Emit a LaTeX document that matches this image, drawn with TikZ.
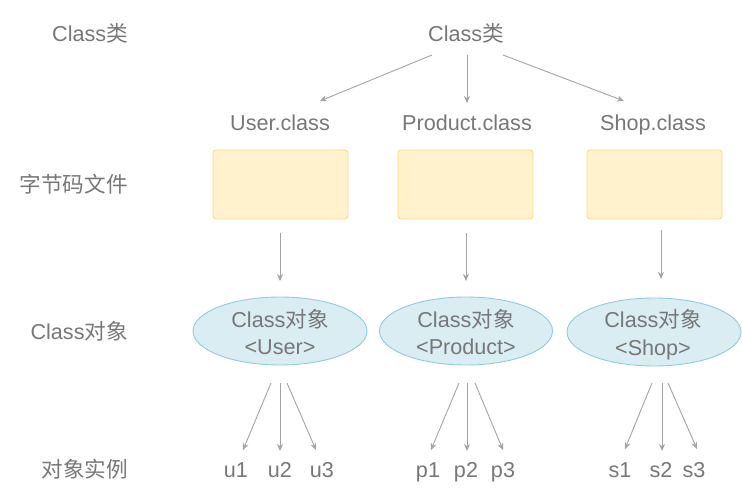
\documentclass[tikz,border=0pt]{standalone}
\usepackage{fontspec}
\setmainfont{Liberation Sans}
\newfontfamily\cjk{Noto Sans CJK SC}
\newcommand{\zh}[1]{{\cjk #1}}
\usetikzlibrary{arrows.meta,shapes.geometric}
\definecolor{txt}{HTML}{777777}
\definecolor{arr}{HTML}{A3A3A3}
\definecolor{boxfill}{HTML}{FFF2CC}
\definecolor{boxline}{HTML}{F9DC86}
\definecolor{ellfill}{HTML}{DAEDF3}
\definecolor{ellline}{HTML}{92CADB}
\tikzset{
  lbl/.style={text=txt, font=\fontsize{21.6}{26}\selectfont, inner sep=0pt, anchor=base},
  filebox/.style={draw=boxline, fill=boxfill, rounded corners=3pt, line width=0.9pt},
  objell/.style={draw=ellline, fill=ellfill, line width=0.9pt},
  conn/.style={draw=arr, line width=0.9pt, -{Stealth[length=7pt,width=6pt]}}
}
\begin{document}
\begin{tikzpicture}[x=1pt,y=-1pt]
\useasboundingbox (0,0) rectangle (742,503);
% left labels
\node[lbl, anchor=base east] (l1) at (128,42) {Class\zh{类}};
\node[lbl, anchor=base east] (l2) at (128,192) {\zh{字节码文件}};
\node[lbl, anchor=base east] (l3) at (128,339) {Class\zh{对象}};
\node[lbl, anchor=base east] (l4) at (128,477) {\zh{对象实例}};
% top
\node[lbl] (cls) at (466,42) {Class\zh{类}};
\node[lbl] (uc) at (280,130) {User.class};
\node[lbl] (pc) at (467,130) {Product.class};
\node[lbl] (sc) at (653,130) {Shop.class};
% boxes
\path[filebox] (213,150) rectangle (348,219);
\path[filebox] (398,150) rectangle (533,219);
\path[filebox] (587,150) rectangle (722,219);
\node[inner sep=0pt, minimum width=135pt, minimum height=69pt] (ub) at (280.5,184.5) {};
\node[inner sep=0pt, minimum width=135pt, minimum height=69pt] (pb) at (465.5,184.5) {};
\node[inner sep=0pt, minimum width=135pt, minimum height=69pt] (sb) at (654.5,184.5) {};
% ellipses
\node[objell, ellipse, minimum width=174pt, minimum height=68pt, inner sep=0pt] (ue) at (280,331) {};
\node[objell, ellipse, minimum width=173pt, minimum height=68pt, inner sep=0pt] (pe) at (466,331) {};
\node[objell, ellipse, minimum width=174pt, minimum height=68pt, inner sep=0pt] (se) at (654,332) {};
\node[lbl] (ue1) at (280,327) {Class\zh{对象}};
\node[lbl] (ue2) at (280,354) {<User>};
\node[lbl] (pe1) at (466,327) {Class\zh{对象}};
\node[lbl] (pe2) at (466,354) {<Product>};
\node[lbl] (se1) at (653,327) {Class\zh{对象}};
\node[lbl] (se2) at (653,355) {<Shop>};
% instances
\node[lbl] (u1) at (236,477) {u1};
\node[lbl] (u2) at (280,477) {u2};
\node[lbl] (u3) at (322,477) {u3};
\node[lbl] (p1) at (428,477) {p1};
\node[lbl] (p2) at (466,477) {p2};
\node[lbl] (p3) at (503,477) {p3};
\node[lbl] (s1) at (620,477) {s1};
\node[lbl] (s2) at (661,477) {s2};
\node[lbl] (s3) at (694,477) {s3};
% connector endpoints
\coordinate (c0l) at (432,55); \coordinate (c0m) at (467,55); \coordinate (c0r) at (503,55);
\coordinate (ucT) at (320,101); \coordinate (pcT) at (467,103); \coordinate (scT) at (624,101);
\coordinate (ubB) at (280,233); \coordinate (ueT) at (280,281);
\coordinate (pbB) at (466,233); \coordinate (peT) at (466,281);
\coordinate (sbB) at (661,230); \coordinate (seT) at (661,279);
\coordinate (ueB1) at (271,383); \coordinate (ueB2) at (280,383); \coordinate (ueB3) at (287,383);
\coordinate (peB1) at (459,383); \coordinate (peB2) at (467,383); \coordinate (peB3) at (475,383);
\coordinate (seB1) at (652,383); \coordinate (seB2) at (662,383); \coordinate (seB3) at (668,383);
\coordinate (u1T) at (243,450); \coordinate (u2T) at (280,451); \coordinate (u3T) at (316,450);
\coordinate (p1T) at (431,450); \coordinate (p2T) at (467,451); \coordinate (p3T) at (503,450);
\coordinate (s1T) at (625,449); \coordinate (s2T) at (662,451); \coordinate (s3T) at (697,449);
% connectors
\draw[conn] (c0l) -- (ucT);
\draw[conn] (c0m) -- (pcT);
\draw[conn] (c0r) -- (scT);
\draw[conn] (ubB) -- (ueT);
\draw[conn] (pbB) -- (peT);
\draw[conn] (sbB) -- (seT);
\draw[conn] (ueB1) -- (u1T);
\draw[conn] (ueB2) -- (u2T);
\draw[conn] (ueB3) -- (u3T);
\draw[conn] (peB1) -- (p1T);
\draw[conn] (peB2) -- (p2T);
\draw[conn] (peB3) -- (p3T);
\draw[conn] (seB1) -- (s1T);
\draw[conn] (seB2) -- (s2T);
\draw[conn] (seB3) -- (s3T);
\end{tikzpicture}
\end{document}
